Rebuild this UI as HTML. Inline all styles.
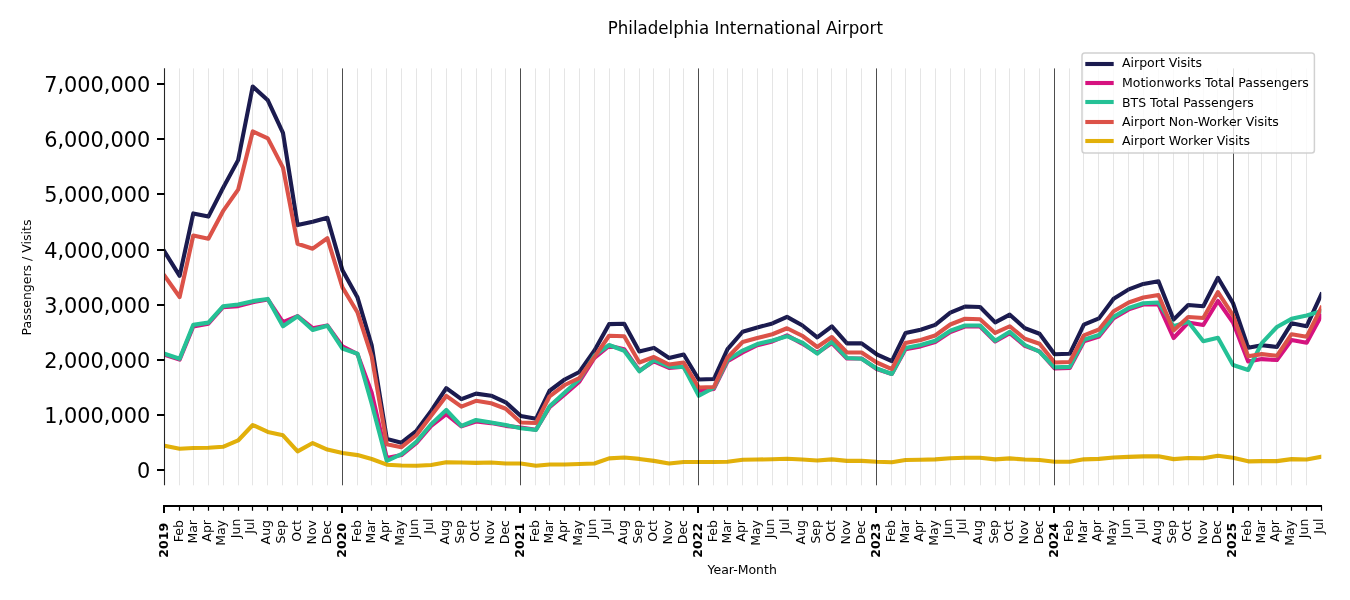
<!DOCTYPE html><html><head><meta charset="utf-8"><title>Philadelphia International Airport</title>
<style>html,body{margin:0;padding:0;background:#fff}svg{display:block}text{font-family:"DejaVu Sans","Liberation Sans",sans-serif;fill:#000}</style></head><body>
<svg width="1350" height="600" viewBox="0 0 1350 600">
<rect width="1350" height="600" fill="#fff"/>
<clipPath id="c"><rect x="164.51" y="68.4" width="1156.77" height="416.9"/></clipPath>
<g clip-path="url(#c)">
<polyline points="164.51,251.57 179.62,275.80 193.27,213.44 208.38,216.59 223.01,188.00 238.12,160.13 252.74,86.46 267.85,100.31 282.97,132.92 297.59,225.08 312.70,221.72 327.33,217.74 342.44,270.34 357.55,297.60 371.69,345.28 386.80,438.88 401.42,442.68 416.53,430.82 431.16,410.84 446.27,388.10 461.38,399.20 476.00,393.62 491.12,395.66 505.74,402.29 520.85,416.08 535.96,418.79 549.61,390.75 564.72,379.49 579.35,371.99 594.46,350.52 609.08,324.14 624.20,323.76 639.31,351.41 653.93,347.87 669.04,358.03 683.67,354.50 698.78,379.49 713.89,379.00 727.54,349.20 742.65,331.76 757.28,327.51 772.39,323.48 787.01,316.91 802.12,325.25 817.23,337.44 831.86,326.35 846.97,343.40 861.59,343.40 876.71,354.27 891.82,361.23 905.47,333.08 920.58,329.77 935.20,324.86 950.31,312.72 964.94,306.54 980.05,307.04 995.16,322.32 1009.79,314.65 1024.90,328.28 1039.52,333.75 1054.63,354.27 1069.74,353.78 1083.88,324.64 1098.99,318.40 1113.62,298.76 1128.73,289.38 1143.35,283.91 1158.46,281.21 1173.58,319.62 1188.20,305.05 1203.31,306.26 1217.94,277.79 1233.05,303.23 1248.16,347.65 1261.81,345.22 1276.92,346.94 1291.54,323.32 1306.66,326.19 1321.28,294.51" fill="none" stroke="#1b1b4f" stroke-width="4.1" stroke-linejoin="round" stroke-linecap="square"/>
<polyline points="164.51,354.66 179.62,359.63 193.27,326.52 208.38,323.76 223.01,307.20 238.12,306.10 252.74,302.23 267.85,299.48 282.97,322.10 297.59,316.03 312.70,328.17 327.33,325.41 342.44,346.38 357.55,354.11 371.69,392.74 386.80,458.02 401.42,455.10 416.53,442.96 431.16,425.85 446.27,414.15 461.38,426.40 476.00,421.44 491.12,423.09 505.74,425.85 520.85,427.51 535.96,429.71 549.61,407.09 564.72,394.40 579.35,381.70 594.46,357.97 609.08,345.83 624.20,349.14 639.31,370.67 653.93,361.28 669.04,367.91 683.67,366.80 698.78,391.08 713.89,388.88 727.54,361.28 742.65,352.45 757.28,345.28 772.39,341.42 787.01,335.35 802.12,343.62 817.23,353.01 831.86,343.07 846.97,358.52 861.59,358.52 876.71,369.01 891.82,373.98 905.47,349.14 920.58,346.38 935.20,341.97 950.31,332.03 964.94,326.52 980.05,326.52 995.16,341.42 1009.79,333.14 1024.90,345.83 1039.52,351.35 1054.63,368.46 1069.74,367.91 1083.88,341.42 1098.99,336.45 1113.62,318.24 1128.73,309.41 1143.35,304.44 1158.46,304.44 1173.58,338.00 1188.20,322.49 1203.31,325.03 1217.94,301.02 1233.05,322.49 1248.16,361.50 1261.81,359.08 1276.92,360.01 1291.54,339.98 1306.66,342.80 1321.28,315.81" fill="none" stroke="#d6127f" stroke-width="4.1" stroke-linejoin="round" stroke-linecap="square"/>
<polyline points="164.51,353.72 179.62,358.75 193.27,324.86 208.38,322.65 223.01,306.26 238.12,304.44 252.74,301.13 267.85,298.92 282.97,326.24 297.59,316.25 312.70,329.99 327.33,325.74 342.44,348.59 357.55,353.72 371.69,403.78 386.80,461.00 401.42,454.22 416.53,441.69 431.16,424.20 446.27,410.01 461.38,425.85 476.00,420.00 491.12,422.54 505.74,425.02 520.85,428.28 535.96,429.99 549.61,406.26 564.72,392.52 579.35,379.49 594.46,355.49 609.08,345.00 624.20,350.74 639.31,371.27 653.93,360.01 669.04,366.75 683.67,367.02 698.78,395.77 713.89,387.77 727.54,359.90 742.65,350.52 757.28,344.01 772.39,340.53 787.01,336.23 802.12,342.52 817.23,353.72 831.86,341.75 846.97,357.97 861.59,358.75 876.71,368.46 891.82,373.98 905.47,348.04 920.58,345.00 935.20,340.75 950.31,330.77 964.94,325.52 980.05,325.52 995.16,340.75 1009.79,331.76 1024.90,345.00 1039.52,351.74 1054.63,367.35 1069.74,366.91 1083.88,339.76 1098.99,335.02 1113.62,316.75 1128.73,307.97 1143.35,303.23 1158.46,302.51 1173.58,326.24 1188.20,321.77 1203.31,341.25 1217.94,337.83 1233.05,364.98 1248.16,370.00 1261.81,343.07 1276.92,327.01 1291.54,318.85 1306.66,315.48 1321.28,311.06" fill="none" stroke="#25c196" stroke-width="4.1" stroke-linejoin="round" stroke-linecap="square"/>
<polyline points="164.51,275.75 179.62,296.99 193.27,235.46 208.38,238.77 223.01,211.18 238.12,189.66 252.74,131.43 267.85,138.33 282.97,167.58 297.59,243.74 312.70,248.70 327.33,238.22 342.44,287.33 357.55,312.50 371.69,356.32 386.80,444.17 401.42,447.21 416.53,435.01 431.16,415.81 446.27,395.89 461.38,406.70 476.00,400.80 491.12,403.22 505.74,408.74 520.85,422.54 535.96,422.98 549.61,396.27 564.72,385.01 579.35,378.00 594.46,356.98 609.08,335.73 624.20,336.23 639.31,362.50 653.93,356.98 669.04,364.48 683.67,362.50 698.78,387.50 713.89,387.00 727.54,357.48 742.65,341.97 757.28,338.00 772.39,334.24 787.01,328.23 802.12,335.73 817.23,346.99 831.86,337.00 846.97,352.51 861.59,352.51 876.71,362.50 891.82,369.01 905.47,343.07 920.58,339.98 935.20,335.51 950.31,324.47 964.94,318.74 980.05,319.23 995.16,332.97 1009.79,326.24 1024.90,338.77 1039.52,343.73 1054.63,362.50 1069.74,362.00 1083.88,335.29 1098.99,329.50 1113.62,311.23 1128.73,302.51 1143.35,297.49 1158.46,295.01 1173.58,330.49 1188.20,317.02 1203.31,318.02 1217.94,292.03 1233.05,315.48 1248.16,356.32 1261.81,354.11 1276.92,355.82 1291.54,334.19 1306.66,336.67 1321.28,307.75" fill="none" stroke="#dc5248" stroke-width="4.1" stroke-linejoin="round" stroke-linecap="square"/>
<polyline points="164.51,445.83 179.62,448.81 193.27,447.98 208.38,447.82 223.01,446.82 238.12,440.48 252.74,425.02 267.85,431.98 282.97,435.34 297.59,451.35 312.70,443.01 327.33,449.53 342.44,453.00 357.55,455.10 371.69,458.96 386.80,464.70 401.42,465.47 416.53,465.81 431.16,465.03 446.27,462.22 461.38,462.49 476.00,462.83 491.12,462.44 505.74,463.54 520.85,463.54 535.96,465.81 549.61,464.48 564.72,464.48 579.35,463.98 594.46,463.54 609.08,458.41 624.20,457.53 639.31,458.91 653.93,460.89 669.04,463.54 683.67,462.00 698.78,462.00 713.89,462.00 727.54,461.72 742.65,459.79 757.28,459.51 772.39,459.24 787.01,458.69 802.12,459.51 817.23,460.45 831.86,459.35 846.97,460.89 861.59,460.89 876.71,461.78 891.82,462.22 905.47,460.01 920.58,459.79 935.20,459.35 950.31,458.25 964.94,457.80 980.05,457.80 995.16,459.35 1009.79,458.41 1024.90,459.51 1039.52,460.01 1054.63,461.78 1069.74,461.78 1083.88,459.35 1098.99,458.91 1113.62,457.53 1128.73,456.87 1143.35,456.42 1158.46,456.20 1173.58,459.13 1188.20,458.02 1203.31,458.25 1217.94,455.76 1233.05,457.75 1248.16,461.34 1261.81,461.12 1276.92,461.12 1291.54,459.13 1306.66,459.51 1321.28,456.76" fill="none" stroke="#e2b00a" stroke-width="4.1" stroke-linejoin="round" stroke-linecap="square"/>
</g>
<path d="M179.5 68.4V485.3M193.5 68.4V485.3M208.5 68.4V485.3M223.5 68.4V485.3M238.5 68.4V485.3M252.5 68.4V485.3M267.5 68.4V485.3M282.5 68.4V485.3M297.5 68.4V485.3M312.5 68.4V485.3M327.5 68.4V485.3M357.5 68.4V485.3M371.5 68.4V485.3M386.5 68.4V485.3M401.5 68.4V485.3M416.5 68.4V485.3M431.5 68.4V485.3M446.5 68.4V485.3M461.5 68.4V485.3M476.5 68.4V485.3M491.5 68.4V485.3M505.5 68.4V485.3M535.5 68.4V485.3M549.5 68.4V485.3M564.5 68.4V485.3M579.5 68.4V485.3M594.5 68.4V485.3M609.5 68.4V485.3M624.5 68.4V485.3M639.5 68.4V485.3M653.5 68.4V485.3M669.5 68.4V485.3M683.5 68.4V485.3M713.5 68.4V485.3M727.5 68.4V485.3M742.5 68.4V485.3M757.5 68.4V485.3M772.5 68.4V485.3M787.5 68.4V485.3M802.5 68.4V485.3M817.5 68.4V485.3M831.5 68.4V485.3M846.5 68.4V485.3M861.5 68.4V485.3M891.5 68.4V485.3M905.5 68.4V485.3M920.5 68.4V485.3M935.5 68.4V485.3M950.5 68.4V485.3M964.5 68.4V485.3M980.5 68.4V485.3M995.5 68.4V485.3M1009.5 68.4V485.3M1024.5 68.4V485.3M1039.5 68.4V485.3M1069.5 68.4V485.3M1083.5 68.4V485.3M1098.5 68.4V485.3M1113.5 68.4V485.3M1128.5 68.4V485.3M1143.5 68.4V485.3M1158.5 68.4V485.3M1173.5 68.4V485.3M1188.5 68.4V485.3M1203.5 68.4V485.3M1217.5 68.4V485.3M1248.5 68.4V485.3M1261.5 68.4V485.3M1276.5 68.4V485.3M1291.5 68.4V485.3M1306.5 68.4V485.3" stroke="#777" stroke-opacity="0.19" stroke-width="1" fill="none"/>
<path d="M342.5 68.4V485.3M520.5 68.4V485.3M698.5 68.4V485.3M876.5 68.4V485.3M1054.5 68.4V485.3M1233.5 68.4V485.3" stroke="#000" stroke-opacity="0.78" stroke-width="0.9" fill="none"/>
<path d="M164.5 68.3V485.3" stroke="#262626" stroke-width="1.1" fill="none"/>
<path d="M157 470H164.5M157 415H164.5M157 360H164.5M157 305H164.5M157 250H164.5M157 194H164.5M157 139H164.5M157 84H164.5" stroke="#000" stroke-width="2" fill="none"/>
<text x="150.2" y="477.90" font-size="20.83" text-anchor="end">0</text>
<text x="150.2" y="422.90" font-size="20.83" text-anchor="end">1,000,000</text>
<text x="150.2" y="367.90" font-size="20.83" text-anchor="end">2,000,000</text>
<text x="150.2" y="312.90" font-size="20.83" text-anchor="end">3,000,000</text>
<text x="150.2" y="257.90" font-size="20.83" text-anchor="end">4,000,000</text>
<text x="150.2" y="201.90" font-size="20.83" text-anchor="end">5,000,000</text>
<text x="150.2" y="146.90" font-size="20.83" text-anchor="end">6,000,000</text>
<text x="150.2" y="91.90" font-size="20.83" text-anchor="end">7,000,000</text>
<path d="M163 506H1322" stroke="#000" stroke-width="2" fill="none"/>
<path d="M164 506V513M342 506V513M520 506V513M698 506V513M876 506V513M1054 506V513M1233 506V513" stroke="#000" stroke-width="2" fill="none"/>
<path d="M179.5 506V510.8M193.5 506V510.8M208.5 506V510.8M223.5 506V510.8M238.5 506V510.8M252.5 506V510.8M267.5 506V510.8M282.5 506V510.8M297.5 506V510.8M312.5 506V510.8M327.5 506V510.8M357.5 506V510.8M371.5 506V510.8M386.5 506V510.8M401.5 506V510.8M416.5 506V510.8M431.5 506V510.8M446.5 506V510.8M461.5 506V510.8M476.5 506V510.8M491.5 506V510.8M505.5 506V510.8M535.5 506V510.8M549.5 506V510.8M564.5 506V510.8M579.5 506V510.8M594.5 506V510.8M609.5 506V510.8M624.5 506V510.8M639.5 506V510.8M653.5 506V510.8M669.5 506V510.8M683.5 506V510.8M713.5 506V510.8M727.5 506V510.8M742.5 506V510.8M757.5 506V510.8M772.5 506V510.8M787.5 506V510.8M802.5 506V510.8M817.5 506V510.8M831.5 506V510.8M846.5 506V510.8M861.5 506V510.8M891.5 506V510.8M905.5 506V510.8M920.5 506V510.8M935.5 506V510.8M950.5 506V510.8M964.5 506V510.8M980.5 506V510.8M995.5 506V510.8M1009.5 506V510.8M1024.5 506V510.8M1039.5 506V510.8M1069.5 506V510.8M1083.5 506V510.8M1098.5 506V510.8M1113.5 506V510.8M1128.5 506V510.8M1143.5 506V510.8M1158.5 506V510.8M1173.5 506V510.8M1188.5 506V510.8M1203.5 506V510.8M1217.5 506V510.8M1248.5 506V510.8M1261.5 506V510.8M1276.5 506V510.8M1291.5 506V510.8M1306.5 506V510.8M1321.5 506V510.8" stroke="#000" stroke-width="1.2" fill="none"/>
<text transform="translate(167.81,522.9) rotate(-90)" font-size="12.5" font-weight="bold" text-anchor="end">2019</text>
<text transform="translate(182.87,520.0) rotate(-90)" font-size="12.5" text-anchor="end">Feb</text>
<text transform="translate(196.52,520.0) rotate(-90)" font-size="12.5" text-anchor="end">Mar</text>
<text transform="translate(210.78,520.0) rotate(-90)" font-size="12.5" text-anchor="end">Apr</text>
<text transform="translate(225.41,520.0) rotate(-90)" font-size="12.5" text-anchor="end">May</text>
<text transform="translate(239.62,518.6) rotate(-90)" font-size="12.5" text-anchor="end">Jun</text>
<text transform="translate(254.24,518.6) rotate(-90)" font-size="12.5" text-anchor="end">Jul</text>
<text transform="translate(270.25,520.0) rotate(-90)" font-size="12.5" text-anchor="end">Aug</text>
<text transform="translate(285.37,520.0) rotate(-90)" font-size="12.5" text-anchor="end">Sep</text>
<text transform="translate(300.84,520.0) rotate(-90)" font-size="12.5" text-anchor="end">Oct</text>
<text transform="translate(315.95,520.0) rotate(-90)" font-size="12.5" text-anchor="end">Nov</text>
<text transform="translate(330.58,520.0) rotate(-90)" font-size="12.5" text-anchor="end">Dec</text>
<text transform="translate(345.74,522.9) rotate(-90)" font-size="12.5" font-weight="bold" text-anchor="end">2020</text>
<text transform="translate(360.80,520.0) rotate(-90)" font-size="12.5" text-anchor="end">Feb</text>
<text transform="translate(374.94,520.0) rotate(-90)" font-size="12.5" text-anchor="end">Mar</text>
<text transform="translate(389.20,520.0) rotate(-90)" font-size="12.5" text-anchor="end">Apr</text>
<text transform="translate(403.82,520.0) rotate(-90)" font-size="12.5" text-anchor="end">May</text>
<text transform="translate(418.03,518.6) rotate(-90)" font-size="12.5" text-anchor="end">Jun</text>
<text transform="translate(432.66,518.6) rotate(-90)" font-size="12.5" text-anchor="end">Jul</text>
<text transform="translate(448.67,520.0) rotate(-90)" font-size="12.5" text-anchor="end">Aug</text>
<text transform="translate(463.78,520.0) rotate(-90)" font-size="12.5" text-anchor="end">Sep</text>
<text transform="translate(479.25,520.0) rotate(-90)" font-size="12.5" text-anchor="end">Oct</text>
<text transform="translate(494.37,520.0) rotate(-90)" font-size="12.5" text-anchor="end">Nov</text>
<text transform="translate(508.99,520.0) rotate(-90)" font-size="12.5" text-anchor="end">Dec</text>
<text transform="translate(524.15,522.9) rotate(-90)" font-size="12.5" font-weight="bold" text-anchor="end">2021</text>
<text transform="translate(539.21,520.0) rotate(-90)" font-size="12.5" text-anchor="end">Feb</text>
<text transform="translate(552.86,520.0) rotate(-90)" font-size="12.5" text-anchor="end">Mar</text>
<text transform="translate(567.12,520.0) rotate(-90)" font-size="12.5" text-anchor="end">Apr</text>
<text transform="translate(581.75,520.0) rotate(-90)" font-size="12.5" text-anchor="end">May</text>
<text transform="translate(595.96,518.6) rotate(-90)" font-size="12.5" text-anchor="end">Jun</text>
<text transform="translate(610.58,518.6) rotate(-90)" font-size="12.5" text-anchor="end">Jul</text>
<text transform="translate(626.60,520.0) rotate(-90)" font-size="12.5" text-anchor="end">Aug</text>
<text transform="translate(641.71,520.0) rotate(-90)" font-size="12.5" text-anchor="end">Sep</text>
<text transform="translate(657.18,520.0) rotate(-90)" font-size="12.5" text-anchor="end">Oct</text>
<text transform="translate(672.29,520.0) rotate(-90)" font-size="12.5" text-anchor="end">Nov</text>
<text transform="translate(686.92,520.0) rotate(-90)" font-size="12.5" text-anchor="end">Dec</text>
<text transform="translate(702.08,522.9) rotate(-90)" font-size="12.5" font-weight="bold" text-anchor="end">2022</text>
<text transform="translate(717.14,520.0) rotate(-90)" font-size="12.5" text-anchor="end">Feb</text>
<text transform="translate(730.79,520.0) rotate(-90)" font-size="12.5" text-anchor="end">Mar</text>
<text transform="translate(745.05,520.0) rotate(-90)" font-size="12.5" text-anchor="end">Apr</text>
<text transform="translate(759.68,520.0) rotate(-90)" font-size="12.5" text-anchor="end">May</text>
<text transform="translate(773.89,518.6) rotate(-90)" font-size="12.5" text-anchor="end">Jun</text>
<text transform="translate(788.51,518.6) rotate(-90)" font-size="12.5" text-anchor="end">Jul</text>
<text transform="translate(804.52,520.0) rotate(-90)" font-size="12.5" text-anchor="end">Aug</text>
<text transform="translate(819.63,520.0) rotate(-90)" font-size="12.5" text-anchor="end">Sep</text>
<text transform="translate(835.11,520.0) rotate(-90)" font-size="12.5" text-anchor="end">Oct</text>
<text transform="translate(850.22,520.0) rotate(-90)" font-size="12.5" text-anchor="end">Nov</text>
<text transform="translate(864.84,520.0) rotate(-90)" font-size="12.5" text-anchor="end">Dec</text>
<text transform="translate(880.01,522.9) rotate(-90)" font-size="12.5" font-weight="bold" text-anchor="end">2023</text>
<text transform="translate(895.07,520.0) rotate(-90)" font-size="12.5" text-anchor="end">Feb</text>
<text transform="translate(908.72,520.0) rotate(-90)" font-size="12.5" text-anchor="end">Mar</text>
<text transform="translate(922.98,520.0) rotate(-90)" font-size="12.5" text-anchor="end">Apr</text>
<text transform="translate(937.60,520.0) rotate(-90)" font-size="12.5" text-anchor="end">May</text>
<text transform="translate(951.81,518.6) rotate(-90)" font-size="12.5" text-anchor="end">Jun</text>
<text transform="translate(966.44,518.6) rotate(-90)" font-size="12.5" text-anchor="end">Jul</text>
<text transform="translate(982.45,520.0) rotate(-90)" font-size="12.5" text-anchor="end">Aug</text>
<text transform="translate(997.56,520.0) rotate(-90)" font-size="12.5" text-anchor="end">Sep</text>
<text transform="translate(1013.04,520.0) rotate(-90)" font-size="12.5" text-anchor="end">Oct</text>
<text transform="translate(1028.15,520.0) rotate(-90)" font-size="12.5" text-anchor="end">Nov</text>
<text transform="translate(1042.77,520.0) rotate(-90)" font-size="12.5" text-anchor="end">Dec</text>
<text transform="translate(1057.93,522.9) rotate(-90)" font-size="12.5" font-weight="bold" text-anchor="end">2024</text>
<text transform="translate(1072.99,520.0) rotate(-90)" font-size="12.5" text-anchor="end">Feb</text>
<text transform="translate(1087.13,520.0) rotate(-90)" font-size="12.5" text-anchor="end">Mar</text>
<text transform="translate(1101.39,520.0) rotate(-90)" font-size="12.5" text-anchor="end">Apr</text>
<text transform="translate(1116.02,520.0) rotate(-90)" font-size="12.5" text-anchor="end">May</text>
<text transform="translate(1130.23,518.6) rotate(-90)" font-size="12.5" text-anchor="end">Jun</text>
<text transform="translate(1144.85,518.6) rotate(-90)" font-size="12.5" text-anchor="end">Jul</text>
<text transform="translate(1160.86,520.0) rotate(-90)" font-size="12.5" text-anchor="end">Aug</text>
<text transform="translate(1175.98,520.0) rotate(-90)" font-size="12.5" text-anchor="end">Sep</text>
<text transform="translate(1191.45,520.0) rotate(-90)" font-size="12.5" text-anchor="end">Oct</text>
<text transform="translate(1206.56,520.0) rotate(-90)" font-size="12.5" text-anchor="end">Nov</text>
<text transform="translate(1221.19,520.0) rotate(-90)" font-size="12.5" text-anchor="end">Dec</text>
<text transform="translate(1236.35,522.9) rotate(-90)" font-size="12.5" font-weight="bold" text-anchor="end">2025</text>
<text transform="translate(1251.41,520.0) rotate(-90)" font-size="12.5" text-anchor="end">Feb</text>
<text transform="translate(1265.06,520.0) rotate(-90)" font-size="12.5" text-anchor="end">Mar</text>
<text transform="translate(1279.32,520.0) rotate(-90)" font-size="12.5" text-anchor="end">Apr</text>
<text transform="translate(1293.94,520.0) rotate(-90)" font-size="12.5" text-anchor="end">May</text>
<text transform="translate(1308.16,518.6) rotate(-90)" font-size="12.5" text-anchor="end">Jun</text>
<text transform="translate(1322.78,518.6) rotate(-90)" font-size="12.5" text-anchor="end">Jul</text>
<text transform="translate(745.3,33.6) scale(1,1.06)" font-size="16.67" text-anchor="middle">Philadelphia International Airport</text>
<text x="742.2" y="573.8" font-size="12.5" text-anchor="middle">Year-Month</text>
<text transform="translate(31.2,277.5) rotate(-90)" font-size="12.5" text-anchor="middle">Passengers / Visits</text>
<rect x="1082" y="53" width="232.4" height="100" rx="2.8" ry="2.8" fill="#fff" fill-opacity="0.8" stroke="#ccc" stroke-opacity="0.9" stroke-width="1.5"/>
<path d="M1085.3 64.00H1113.7" stroke="#1b1b4f" stroke-width="4.1" fill="none"/>
<text x="1122" y="67.40" font-size="12.5">Airport Visits</text>
<path d="M1085.3 83.00H1113.7" stroke="#d6127f" stroke-width="4.1" fill="none"/>
<text x="1122" y="87.00" font-size="12.5">Motionworks Total Passengers</text>
<path d="M1085.3 102.00H1113.7" stroke="#25c196" stroke-width="4.1" fill="none"/>
<text x="1122" y="106.60" font-size="12.5">BTS Total Passengers</text>
<path d="M1085.3 122.00H1113.7" stroke="#dc5248" stroke-width="4.1" fill="none"/>
<text x="1122" y="125.60" font-size="12.5">Airport Non-Worker Visits</text>
<path d="M1085.3 141.00H1113.7" stroke="#e2b00a" stroke-width="4.1" fill="none"/>
<text x="1122" y="144.60" font-size="12.5">Airport Worker Visits</text>
</svg></body></html>
